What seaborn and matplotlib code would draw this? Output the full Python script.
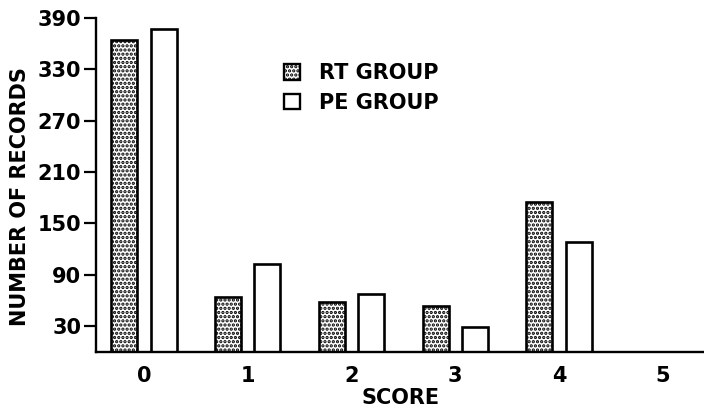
import pandas as pd
import matplotlib
matplotlib.use('Agg')
import matplotlib.pyplot as plt
import matplotlib.patches as mpatches
import seaborn as sns

# data
scores = ['0', '1', '2', '3', '4', '5']
rt_group = [364, 64, 58, 54, 175, 0]
pe_group = [377, 103, 68, 29, 128, 0]
groups = ['RT GROUP', 'PE GROUP']
y_ticks = [30, 90, 150, 210, 270, 330, 390]

df = pd.DataFrame({
    'score': scores * 2,
    'records': rt_group + pe_group,
    'group': [groups[0]] * len(scores) + [groups[1]] * len(scores),
})

sns.set_style('ticks')
plt.rcParams['font.family'] = ['DejaVu Sans']
plt.rcParams['font.weight'] = 'bold'
plt.rcParams['text.color'] = 'black'
plt.rcParams['axes.labelcolor'] = 'black'
plt.rcParams['xtick.color'] = 'black'
plt.rcParams['ytick.color'] = 'black'
plt.rcParams['hatch.linewidth'] = 1.6
plt.rcParams['hatch.color'] = 'black'

fig = plt.figure(figsize=(7.04, 4.09), dpi=100)
ax = fig.add_axes([0.137, 0.14, 0.863, 0.816])

sns.barplot(data=df, x='score', y='records', hue='group', order=scores,
            hue_order=groups, palette=['white', 'white'], width=0.76, gap=0.34,
            edgecolor='black', linewidth=1.9, legend=False, ax=ax)

# dotted fill for the RT bars (first hue level)
n = len(scores)
for i, bar in enumerate(ax.patches):
    if i < n:
        bar.set_hatch('....')

ax.set_ylim(0, 390)
ax.set_xlim(-0.456, 5.395)
ax.set_yticks(y_ticks)
ax.set_yticklabels([str(t) for t in y_ticks], fontsize=15, fontweight='bold')
ax.set_xticklabels(scores, fontsize=15, fontweight='bold')
ax.tick_params(axis='y', length=9, width=1.6, color='black', pad=2)
ax.tick_params(axis='x', length=0, pad=10)

ax.set_ylabel('NUMBER OF RECORDS', fontsize=15, fontweight='bold')
ax.set_xlabel('SCORE', fontsize=15, fontweight='bold', labelpad=2)
ax.yaxis.set_label_coords(-0.11, 0.465)

sns.despine(ax=ax)
for side in ['left', 'bottom']:
    ax.spines[side].set_linewidth(1.7)
    ax.spines[side].set_color('black')

handles = [
    mpatches.Patch(facecolor='white', edgecolor='black', hatch='....', linewidth=1.7, label=groups[0]),
    mpatches.Patch(facecolor='white', edgecolor='black', linewidth=1.7, label=groups[1]),
]
fig.legend(handles=handles, loc='upper left', bbox_to_anchor=(0.404, 0.845),
           frameon=False, prop={'size': 15, 'weight': 'bold'},
           handlelength=0.75, handleheight=0.75,
           handletextpad=0.9, labelspacing=0.45, borderpad=0, borderaxespad=0)

fig.savefig('out.png', dpi=100)
